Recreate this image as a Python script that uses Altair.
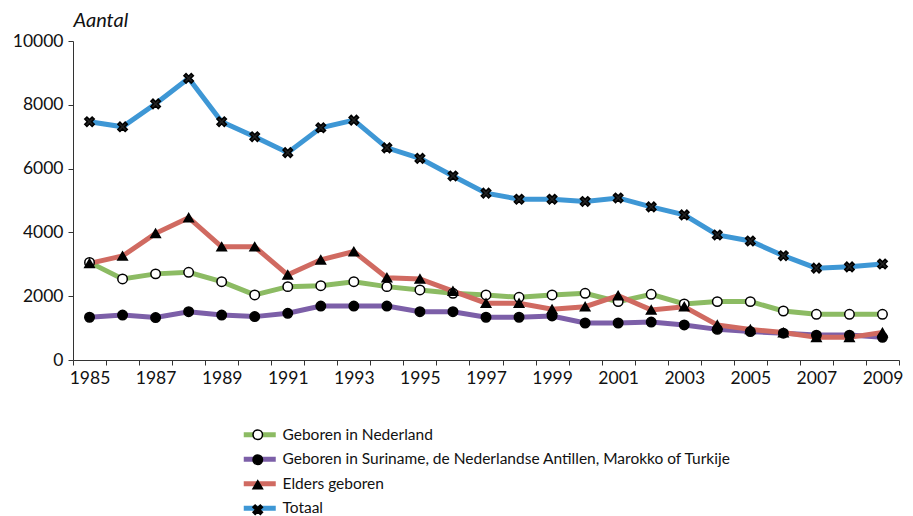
import altair as alt
import pandas as pd

years = list(range(1985, 2010))
series_names = [
    "Geboren in Nederland",
    "Geboren in Suriname, de Nederlandse Antillen, Marokko of Turkije",
    "Elders geboren",
    "Totaal",
]
nederland = [3060, 2540, 2700, 2750, 2455, 2040, 2300, 2330, 2455, 2300, 2195, 2090, 2040,
             1965, 2040, 2090, 1830, 2060, 1756, 1830, 1830, 1536, 1432, 1432, 1432]
suriname = [1340, 1410, 1330, 1515, 1410, 1360, 1465, 1690, 1690, 1690, 1515, 1515, 1340,
            1340, 1380, 1160, 1160, 1190, 1100, 960, 890, 840, 780, 780, 710]
elders = [3030, 3260, 3970, 4460, 3550, 3550, 2670, 3140, 3400, 2580, 2540, 2160, 1780,
          1780, 1590, 1670, 2020, 1570, 1670, 1100, 960, 860, 710, 710, 860]
totaal = [7470, 7310, 8030, 8830, 7470, 7000, 6500, 7280, 7520, 6650, 6320, 5770, 5230,
          5040, 5040, 4970, 5080, 4800, 4550, 3920, 3730, 3270, 2880, 2920, 3010]

colors = ["#8cbb63", "#7c5fa8", "#d06a61", "#3e97d5"]
x_path = ("M-1,-0.55L-0.55,-1L0,-0.45L0.55,-1L1,-0.55L0.45,0L1,0.55L0.55,1L0,0.45"
          "L-0.55,1L-1,0.55L-0.45,0Z")
shapes = ["circle", "circle", "triangle-up", x_path]
fills = ["white", "black", "black", "#222222"]

rows = []
for name, vals in zip(series_names, [nederland, suriname, elders, totaal]):
    for y, v in zip(years, vals):
        rows.append({"jaar": str(y), "serie": name, "serie2": name, "aantal": v})
df = pd.DataFrame(rows)

FONT = "Lato"
AX_FS = 17.5

x_enc = alt.X(
    "jaar:O",
    title=None,
    scale=alt.Scale(paddingInner=0, paddingOuter=0),
    axis=alt.Axis(
        labelAngle=0,
        labelExpr="toNumber(datum.value) % 2 == 1 ? datum.value : ''",
        tickBand="extent",
        tickSize=5,
        labelFontSize=AX_FS,
        labelPadding=4,
        domainColor="#333333",
        tickColor="#333333",
        labelColor="#111111",
        grid=False,
    ),
)
y_enc = alt.Y(
    "aantal:Q",
    scale=alt.Scale(domain=[0, 10000], nice=False),
    axis=alt.Axis(
        values=[0, 2000, 4000, 6000, 8000, 10000],
        format="d",
        title="Aantal",
        titleAngle=0,
        titleAlign="left",
        titleBaseline="alphabetic",
        titleX=0,
        titleY=-15,
        titleFontStyle="italic",
        titleFontWeight="normal",
        titleFontSize=20,
        titleColor="#111111",
        tickSize=5,
        labelFontSize=AX_FS,
        labelPadding=5,
        domainColor="#333333",
        tickColor="#333333",
        labelColor="#111111",
        grid=False,
    ),
)

color_scale = alt.Scale(domain=series_names, range=colors)
shape_scale = alt.Scale(range=shapes)
fill_scale = alt.Scale(range=fills)

LEG_Y = 386

lines = alt.Chart(df).mark_line(strokeWidth=5).encode(
    x=x_enc,
    y=y_enc,
    color=alt.Color(
        "serie:N",
        scale=color_scale,
        sort=series_names,
        legend=alt.Legend(
            title=None,
            orient="none",
            legendX=179,
            legendY=LEG_Y,
            symbolType="M-3.2,0H3.2",
            symbolSize=100,
            symbolStrokeWidth=5,
            labelFontSize=15.5,
            labelColor="#111111",
            labelOffset=15,
            labelLimit=600,
            rowPadding=3.5,
            padding=0,
        ),
    ),
)

points = alt.Chart(df).mark_point(size=90, strokeWidth=1.5, stroke="black", opacity=1, filled=True).encode(
    x=x_enc,
    y=y_enc,
    shape=alt.Shape(
        "serie2:N",
        scale=shape_scale,
        sort=series_names,
        legend=alt.Legend(
            title=None,
            orient="none",
            legendX=177,
            legendY=LEG_Y,
            symbolSize=90,
            symbolStrokeColor="black",
            symbolFillColor={"expr": "datum.value == 'Geboren in Nederland' ? 'white' : 'black'"},
            symbolStrokeWidth=1.5,
            symbolOpacity=1,
            labelExpr="' '",
            labelFontSize=15.5,
            labelColor="transparent",
            labelOffset=8,
            labelLimit=600,
            rowPadding=8,
            padding=0,
        ),
    ),
    fill=alt.Fill("serie2:N", scale=fill_scale, sort=series_names, legend=None),
)

chart = (
    alt.layer(lines, points)
    .properties(
        width=826,
        height=319,
        autosize=alt.AutoSizeParams(type="none"),
        padding={"left": 65, "top": 33, "right": 6, "bottom": 156},
    )
    .configure(font=FONT)
    .configure_view(stroke=None)
)

chart.save("out.html", embed_options={"renderer": "svg", "actions": False})
